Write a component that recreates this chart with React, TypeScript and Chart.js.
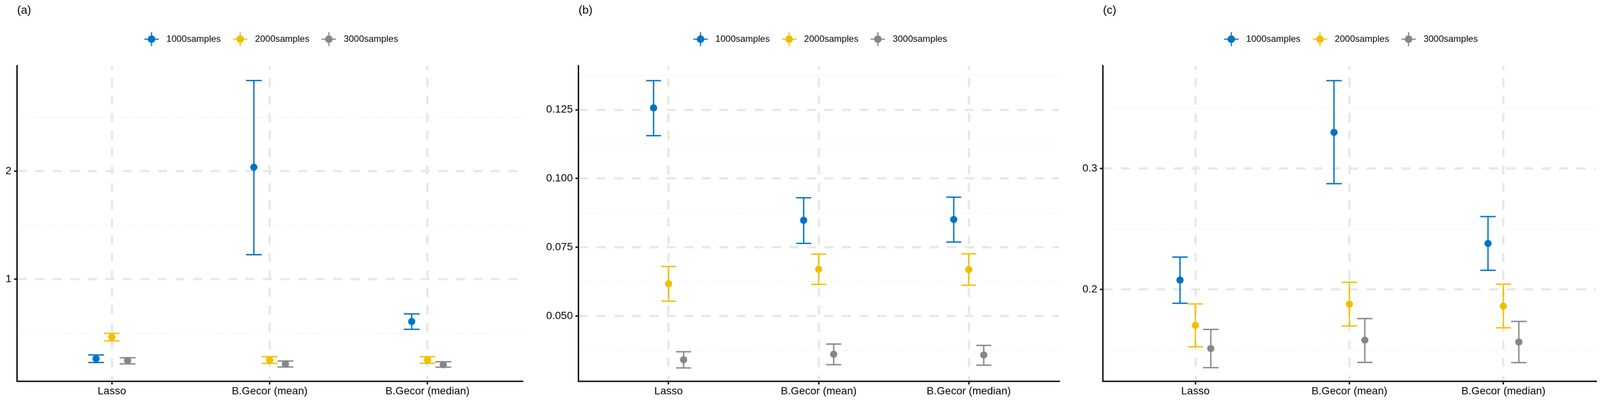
import React, { useEffect, useRef } from 'react';
import { Chart, registerables } from 'chart.js';

Chart.register(...registerables);

// ---------- data ----------
const categories = ['Lasso', 'B.Gecor (mean)', 'B.Gecor (median)'];
const seriesLabels = ['1000samples', '2000samples', '3000samples'];
const seriesColors = ['#0073C2', '#EFC000', '#868686'];

// panel (a)
const aMean1000 = [0.265, 2.037, 0.609];
const aLow1000 = [0.23, 1.228, 0.537];
const aHigh1000 = [0.3, 2.84, 0.68];
const aMean2000 = [0.465, 0.254, 0.254];
const aLow2000 = [0.43, 0.222, 0.222];
const aHigh2000 = [0.5, 0.284, 0.284];
const aMean3000 = [0.248, 0.216, 0.21];
const aLow3000 = [0.218, 0.189, 0.187];
const aHigh3000 = [0.274, 0.244, 0.237];
const aYTicks = [0.5, 1, 1.5, 2, 2.5];
const aYLabelValues = [1, 2];
const aYLabelTexts = ['1', '2'];
const aYRange = [0.055, 2.976];

// panel (b)
const bMean1000 = [0.1257, 0.0848, 0.0851];
const bLow1000 = [0.1156, 0.0764, 0.0769];
const bHigh1000 = [0.1356, 0.093, 0.0932];
const bMean2000 = [0.0617, 0.067, 0.0669];
const bLow2000 = [0.0554, 0.0615, 0.0612];
const bHigh2000 = [0.068, 0.0725, 0.0726];
const bMean3000 = [0.0341, 0.0361, 0.0358];
const bLow3000 = [0.0311, 0.0323, 0.0321];
const bHigh3000 = [0.037, 0.0398, 0.0393];
const bYTicks = [0.0375, 0.05, 0.0625, 0.075, 0.0875, 0.1, 0.1125, 0.125, 0.1375];
const bYLabelValues = [0.05, 0.075, 0.1, 0.125];
const bYLabelTexts = ['0.050', '0.075', '0.100', '0.125'];
const bYRange = [0.0262, 0.141];

// panel (c)
const cMean1000 = [0.2078, 0.33, 0.2381];
const cLow1000 = [0.1886, 0.2875, 0.2159];
const cHigh1000 = [0.2268, 0.3727, 0.2603];
const cMean2000 = [0.1704, 0.1879, 0.1863];
const cLow2000 = [0.1526, 0.1698, 0.1683];
const cHigh2000 = [0.1881, 0.206, 0.2044];
const cMean3000 = [0.1512, 0.1581, 0.1566];
const cLow3000 = [0.1354, 0.1397, 0.1396];
const cHigh3000 = [0.167, 0.176, 0.1736];
const cYTicks = [0.15, 0.2, 0.25, 0.3, 0.35];
const cYLabelValues = [0.2, 0.3];
const cYLabelTexts = ['0.2', '0.3'];
const cYRange = [0.124, 0.385];

// ---------- style ----------
const FONT = "'Liberation Sans', Arial, sans-serif";
const GRID_MAJOR = '#E8E8E8';
const GRID_MINOR = '#ECECEC';
const DODGE = [-0.1, 0, 0.1];
const CAP_HALF = 0.05;
const PAGE_W = 4201;
const CANVAS_H = 1061;

type Series = { mean: number[]; low: number[]; high: number[] };
type Panel = {
  title: string;
  left: number;
  width: number;
  axisLeft: number;
  padRight: number;
  yRange: number[];
  yTicks: number[];
  yLabelValues: number[];
  yLabelTexts: string[];
  series: Series[];
};

const panels: Panel[] = [
  {
    title: '(a)', left: 0, width: 1400, axisLeft: 45, padRight: 29,
    yRange: aYRange, yTicks: aYTicks, yLabelValues: aYLabelValues, yLabelTexts: aYLabelTexts,
    series: [
      { mean: aMean1000, low: aLow1000, high: aHigh1000 },
      { mean: aMean2000, low: aLow2000, high: aHigh2000 },
      { mean: aMean3000, low: aLow3000, high: aHigh3000 },
    ],
  },
  {
    title: '(b)', left: 1400, width: 1400, axisLeft: 119, padRight: 20,
    yRange: bYRange, yTicks: bYTicks, yLabelValues: bYLabelValues, yLabelTexts: bYLabelTexts,
    series: [
      { mean: bMean1000, low: bLow1000, high: bHigh1000 },
      { mean: bMean2000, low: bLow2000, high: bHigh2000 },
      { mean: bMean3000, low: bLow3000, high: bHigh3000 },
    ],
  },
  {
    title: '(c)', left: 2800, width: 1401, axisLeft: 96, padRight: 11,
    yRange: cYRange, yTicks: cYTicks, yLabelValues: cYLabelValues, yLabelTexts: cYLabelTexts,
    series: [
      { mean: cMean1000, low: cLow1000, high: cHigh1000 },
      { mean: cMean2000, low: cLow2000, high: cHigh2000 },
      { mean: cMean3000, low: cLow3000, high: cHigh3000 },
    ],
  },
];

function makeIcon(color: string): HTMLCanvasElement {
  const c = document.createElement('canvas');
  c.width = 40;
  c.height = 40;
  const g = c.getContext('2d')!;
  g.strokeStyle = color;
  g.lineWidth = 3;
  g.beginPath();
  g.moveTo(20, 1.5);
  g.lineTo(20, 38.5);
  g.moveTo(1, 20);
  g.lineTo(39, 20);
  g.stroke();
  g.fillStyle = color;
  g.beginPath();
  g.arc(20, 20, 10, 0, Math.PI * 2);
  g.fill();
  return c;
}

const errorBarPlugin = {
  id: 'errorBars',
  beforeDatasetsDraw(chart: any) {
    const { ctx } = chart;
    const xs = chart.scales.x;
    const ys = chart.scales.y;
    chart.data.datasets.forEach((ds: any) => {
      ctx.save();
      ctx.strokeStyle = ds.backgroundColor;
      ctx.lineWidth = 3.5;
      ctx.lineCap = 'butt';
      ds.data.forEach((pt: any, i: number) => {
        const px = xs.getPixelForValue(pt.x);
        const half = xs.getPixelForValue(pt.x + CAP_HALF) - px;
        const yl = ys.getPixelForValue(ds.errLow[i]);
        const yh = ys.getPixelForValue(ds.errHigh[i]);
        ctx.beginPath();
        ctx.moveTo(px, yl);
        ctx.lineTo(px, yh);
        ctx.moveTo(px - half, yl);
        ctx.lineTo(px + half, yl);
        ctx.moveTo(px - half, yh);
        ctx.lineTo(px + half, yh);
        ctx.stroke();
      });
      ctx.restore();
    });
  },
};

function near(a: number, b: number) {
  return Math.abs(a - b) < 1e-9;
}

function buildConfig(p: Panel, icons: HTMLCanvasElement[]): any {
  const isMajor = (v: any) => typeof v === 'number' && p.yLabelValues.some((m) => near(m, v));
  const datasets = p.series.map((s, si) => ({
    label: seriesLabels[si],
    data: s.mean.map((m, ci) => ({ x: ci + 1 + DODGE[si], y: m })),
    errLow: s.low,
    errHigh: s.high,
    backgroundColor: seriesColors[si],
    borderColor: seriesColors[si],
    pointRadius: 9.5,
    pointHoverRadius: 9.5,
    pointBorderWidth: 0,
    showLine: false,
  }));
  return {
    type: 'scatter',
    data: { datasets },
    plugins: [errorBarPlugin],
    options: {
      animation: false,
      responsive: false,
      devicePixelRatio: 1,
      events: [],
      layout: { padding: { left: 0, right: p.padRight, top: 0, bottom: 0 } },
      plugins: {
        tooltip: { enabled: false },
        title: {
          display: true,
          text: p.title,
          align: 'start',
          fullSize: false,
          color: '#000',
          font: { family: FONT, size: 30, weight: 'normal', lineHeight: 1.2 },
          padding: { top: 10, bottom: 21 },
        },
        legend: {
          display: true,
          position: 'top',
          align: 'center',
          fullSize: false,
          labels: {
            usePointStyle: true,
            pointStyleWidth: 54,
            padding: 24,
            color: '#000',
            font: { family: FONT, size: 24 },
            generateLabels: (chart: any) =>
              chart.data.datasets.map((ds: any, i: number) => ({
                text: ds.label,
                pointStyle: icons[i],
                fillStyle: seriesColors[i],
                strokeStyle: seriesColors[i],
                lineWidth: 0,
                hidden: false,
                datasetIndex: i,
                fontColor: '#000',
              })),
          },
        },
        subtitle: {
          display: true,
          text: '',
          weight: 500,
          fullSize: false,
          font: { family: FONT, size: 1, lineHeight: 1 },
          padding: { top: 0, bottom: 47 },
        },
      },
      scales: {
        x: {
          type: 'linear',
          min: 0.4,
          max: 3.6,
          afterBuildTicks: (scale: any) => {
            scale.ticks = categories.map((_, i) => ({ value: i + 1 }));
          },
          afterFit: (scale: any) => {
            scale.height = 58;
          },
          ticks: {
            autoSkip: false,
            maxRotation: 0,
            minRotation: 0,
            padding: 1,
            color: '#000',
            font: { family: FONT, size: 28 },
            callback: (v: number) => categories[Math.round(v) - 1] ?? '',
          },
          grid: {
            color: GRID_MAJOR,
            lineWidth: 6,
            drawTicks: true,
            tickLength: 8,
            tickColor: '#000',
            tickWidth: 3.5,
            tickBorderDash: [],
          },
          border: { display: true, color: '#000', width: 3.5, dash: [24, 22], dashOffset: 14 },
        },
        y: {
          type: 'linear',
          min: p.yRange[0],
          max: p.yRange[1],
          afterBuildTicks: (scale: any) => {
            scale.ticks = p.yTicks.map((v) => ({ value: v }));
          },
          afterFit: (scale: any) => {
            scale.width = p.axisLeft;
          },
          ticks: {
            autoSkip: false,
            padding: 7,
            color: '#000',
            font: { family: FONT, size: 28 },
            callback: (v: number) => {
              const idx = p.yLabelValues.findIndex((m) => near(m, v));
              return idx >= 0 ? p.yLabelTexts[idx] : '';
            },
          },
          grid: {
            color: (c: any) => (isMajor(c.tick && c.tick.value) ? GRID_MAJOR : GRID_MINOR),
            lineWidth: (c: any) => (isMajor(c.tick && c.tick.value) ? 6 : 1.5),
            drawTicks: true,
            tickLength: 8,
            tickColor: (c: any) => (isMajor(c.tick && c.tick.value) ? '#000' : 'rgba(0,0,0,0)'),
            tickWidth: 3.5,
            tickBorderDash: [],
          },
          border: {
            display: true,
            color: '#000',
            width: 3.5,
            dash: (c: any) => (c && c.tick && !isMajor(c.tick.value) ? [5, 5] : [24, 22]),
            dashOffset: 0,
          },
        },
      },
    },
  };
}

export default function App() {
  const refs = [useRef<HTMLCanvasElement>(null), useRef<HTMLCanvasElement>(null), useRef<HTMLCanvasElement>(null)];
  const scale = typeof window !== 'undefined' ? Math.min(1, window.innerWidth / PAGE_W) : 1;

  useEffect(() => {
    const icons = seriesColors.map((c) => makeIcon(c));
    const charts = panels.map((p, i) => new Chart(refs[i].current as HTMLCanvasElement, buildConfig(p, icons)));
    return () => {
      charts.forEach((c) => c.destroy());
    };
  }, []);

  return (
    <div
      style={{
        position: 'absolute',
        left: 0,
        top: 0,
        width: PAGE_W * scale,
        height: CANVAS_H * scale,
        background: '#fff',
        overflow: 'hidden',
      }}
    >
      {panels.map((p, i) => (
        <canvas
          key={p.title}
          ref={refs[i]}
          width={p.width}
          height={CANVAS_H}
          style={{
            position: 'absolute',
            left: p.left * scale,
            top: 0,
            width: `${p.width * scale}px`,
            height: `${CANVAS_H * scale}px`,
            display: 'block',
          }}
        />
      ))}
    </div>
  );
}
